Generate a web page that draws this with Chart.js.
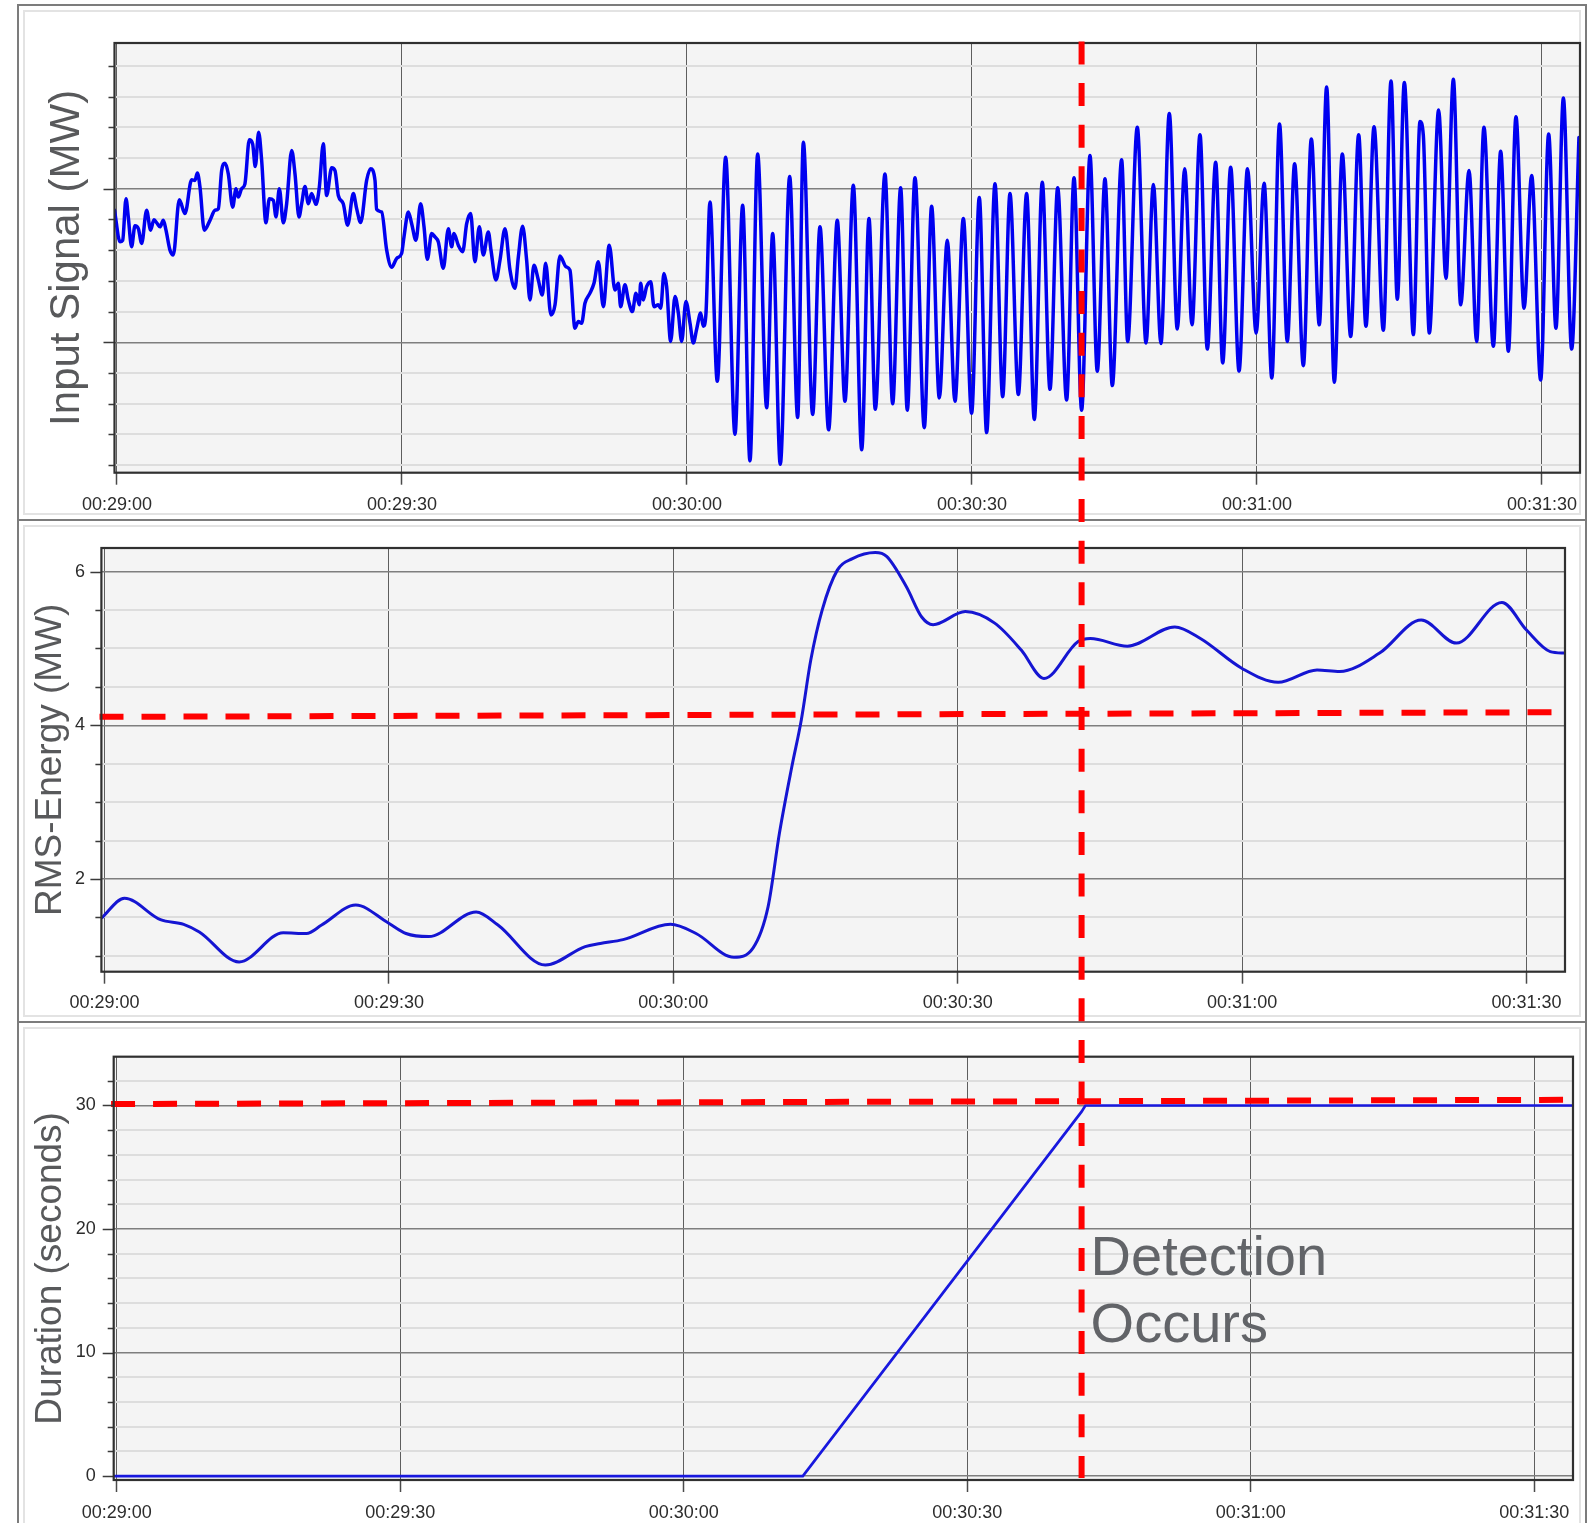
<!DOCTYPE html>
<html>
<head>
<meta charset="utf-8">
<title>Oscillation detection</title>
<script src="https://cdn.jsdelivr.net/npm/chart.js@4.4.1/dist/chart.umd.min.js"></script>
<style>
  html, body { margin: 0; padding: 0; background: #fff; }
  #page { position: relative; width: 1589px; height: 1523px; overflow: hidden; background: #fff; }
  .panel { position: absolute; box-sizing: border-box; border: 2px solid #7c7c7c;
           box-shadow: inset 0 0 0 4px #fff, inset 0 0 0 6px #e3e3e3; }
  canvas { position: absolute; left: 0; }
  #note { position: absolute; font-family: 'Liberation Sans', Arial, sans-serif; font-size: 56px;
          line-height: 67px; color: #626468; white-space: nowrap; }
</style>
</head>
<body>
<div id="page">
  <div class="panel" style="left:17px;top:4px;width:1570px;height:517px"></div>
  <div class="panel" style="left:17px;top:519px;width:1570px;height:504px"></div>
  <div class="panel" style="left:17px;top:1021px;width:1570px;height:520px"></div>
  <canvas id="signalChart" width="1589" height="520" style="top:0"></canvas>
  <canvas id="rmsChart" width="1589" height="502" style="top:520px"></canvas>
  <canvas id="durationChart" width="1589" height="501" style="top:1022px"></canvas>
  <canvas id="overlay" width="1589" height="1523" style="top:0;pointer-events:none"></canvas>
  <div id="note">Detection<br>Occurs</div>
</div>
<script>
// Time axis: seconds after 00:29:00
const timeTickValues = [0, 30, 60, 90, 120, 150];
const timeTickLabels = ['00:29:00', '00:29:30', '00:30:00', '00:30:30', '00:31:00', '00:31:30'];

// Input signal (MW)
const signalTimes = [
  -0.26,0.32,0.60,0.95,1.19,1.54,1.89,2.25,2.60,3.12,3.54,3.89,4.25,4.53,4.88,5.16,5.58,5.93,6.56,7.16,
  7.86,8.21,8.46,8.74,9.19,9.79,10.32,10.67,11.02,11.37,11.72,12.18,12.53,12.77,13.12,13.47,13.93,14.28,14.56,14.91,
  15.23,15.68,16.04,16.46,16.74,17.09,17.51,17.86,18.39,18.74,19.16,19.44,19.79,20.14,20.49,20.95,21.30,21.72,22.07,22.60,
  22.95,23.30,23.82,24.28,24.88,25.23,25.65,26.28,26.70,27.16,27.33,27.86,28.39,28.91,29.44,29.96,30.21,30.67,31.02,31.47,
  31.96,32.32,32.67,33.12,33.47,33.82,34.35,34.88,35.23,35.47,35.93,36.39,36.81,37.23,37.68,38.14,38.56,39.09,39.37,39.89,
  40.32,40.84,41.37,41.89,42.25,42.70,43.12,43.47,43.89,44.35,44.77,45.12,45.68,46.11,46.63,47.26,47.68,48.21,48.56,48.91,
  49.26,49.79,50.21,50.67,51.19,51.82,52.42,52.77,53.02,53.47,53.82,54.25,54.63,54.98,55.12,55.40,55.75,56.18,56.53,56.98,
  57.23,57.58,57.86,58.28,58.74,59.09,59.44,59.89,60.32,60.67,61.02,61.44,61.72,62.00,
  62.42,63.19,64.07,65.05,65.86,66.63,67.44,68.39,69.02,69.82,70.81,71.65,72.25,73.23,74.00,74.91,75.82,76.63,77.51,78.39,
  79.16,79.82,80.84,81.65,82.49,83.19,84.00,84.98,85.75,86.56,87.40,88.21,89.09,89.96,90.77,91.54,92.42,93.23,94.00,94.88,
  95.75,96.56,97.40,98.21,99.02,99.96,100.74,101.54,102.42,103.19,104.00,104.77,105.75,106.39,107.40,108.32,109.09,109.89,110.77,111.61,
  112.39,113.16,114.00,114.77,115.65,116.39,117.23,118.11,119.00,119.91,120.75,121.56,122.37,123.19,123.96,124.88,125.72,126.56,127.33,128.14,
  128.98,129.86,130.70,131.47,132.32,133.30,134.11,134.77,135.51,136.46,137.16,137.51,138.14,139.12,139.89,140.67,141.44,142.32,143.12,143.89,
  144.88,145.65,146.46,147.26,148.11,148.91,149.86,150.70,151.47,152.25,153.12,153.89
];
const signalValues = [
  4.30,3.27,3.32,4.67,4.08,3.11,3.79,3.70,3.22,4.30,3.65,3.99,3.86,3.76,3.97,3.65,3.00,2.84,4.64,4.19,
  5.29,5.27,5.51,5.05,3.65,3.97,4.30,4.35,5.59,5.83,5.48,4.40,5.00,4.73,5.00,5.16,6.59,6.46,5.72,6.84,
  5.92,3.89,4.67,4.62,4.08,5.00,3.89,4.51,6.24,5.48,4.08,4.51,5.07,4.51,4.84,4.49,5.05,6.46,4.78,5.68,
  5.59,4.78,4.51,3.81,4.84,4.35,3.90,5.27,5.65,5.27,4.33,4.24,3.00,2.44,2.73,2.89,3.43,4.24,3.86,3.32,
  4.51,3.76,2.70,3.54,3.43,3.27,2.41,3.70,3.11,3.54,3.16,2.95,3.86,4.19,2.62,3.76,2.84,3.59,3.00,2.03,
  2.68,3.70,2.35,1.76,2.78,3.78,2.68,1.38,2.51,2.03,1.54,2.57,0.89,1.22,2.81,2.46,2.35,0.46,0.68,0.62,
  1.27,1.60,1.92,2.62,1.16,3.16,1.70,1.92,1.16,1.87,1.38,1.00,1.60,1.22,1.92,1.38,1.81,1.97,1.16,1.22,
  1.11,2.24,1.81,0.03,1.49,0.95,0.03,1.33,0.62,-0.02,0.43,0.95,0.52,0.95,
  4.57,-1.27,6.02,-2.99,4.46,-3.86,6.13,-2.13,3.54,-3.97,5.40,-2.45,6.51,-2.35,3.76,-2.85,3.97,-1.92,5.11,-3.50,
  4.03,-2.18,5.48,-2.00,5.03,-2.21,5.36,-2.78,4.43,-1.81,3.32,-1.92,4.03,-2.31,4.71,-2.94,5.16,-1.77,4.84,-1.70,
  4.84,-2.51,5.21,-1.53,5.03,-1.88,5.36,-2.21,6.08,-0.94,5.32,-1.41,5.94,0.03,7.00,-0.02,5.14,-0.04,7.45,0.43,
  5.65,0.57,6.76,-0.22,5.86,-0.67,5.70,-0.94,5.65,0.30,5.18,-1.16,7.11,0.03,5.81,-0.76,6.62,0.57,8.31,-1.30,
  6.13,0.19,6.76,0.52,7.02,0.39,8.51,1.40,8.46,0.25,7.19,6.73,0.30,7.56,2.08,8.56,1.22,5.59,0.03,7.00,
  -0.13,6.22,-0.29,7.34,1.11,5.43,-1.23,6.78,0.46,7.95,-0.22,6.67
];

// RMS energy (MW) and its threshold
const rmsTimes = [-0.33,2.1,5.9,8.35,10.0,14.2,18.85,21.3,22.9,26.5,29.9,31.8,34.2,39.2,41.5,46.5,50.7,52.3,54.7,59.7,
  62.4,66.4,68.4,70.0,71.2,72.5,73.5,74.5,75.7,77.3,78.9,81.3,82.5,84.6,86.2,87.4,90.8,93.9,96.7,99.1,
  102.7,104.0,107.9,112.9,115.6,120.0,123.8,127.9,130.3,134.5,138.9,142.6,147.4,150.0,152.5,154.1];
const rmsValues = [1.49,1.75,1.47,1.41,1.31,0.92,1.30,1.29,1.40,1.66,1.43,1.29,1.25,1.57,1.40,0.88,1.12,1.16,1.21,1.41,
  1.29,0.98,1.10,1.64,2.60,3.46,4.07,4.85,5.50,6.02,6.17,6.25,6.20,5.80,5.41,5.31,5.48,5.33,4.98,4.61,
  5.09,5.13,5.03,5.28,5.13,4.74,4.56,4.72,4.70,4.94,5.37,5.07,5.60,5.24,4.96,4.94];
const rmsThresholdTimes = [-0.53, 152.66];
const rmsThresholdValues = [4.11, 4.17];
const rmsTickLabels = [2, 4, 6];

// Duration above threshold (seconds) and the duration limit
const durationTimes = [-0.32, 72.6, 102.1, 102.5, 154.1];
const durationValues = [0, 0, 29.5, 30, 30];
const durationThresholdTimes = [-0.6, 153.08];
const durationThresholdValues = [30.12, 30.46];
const durationTickLabels = [0, 10, 20, 30];

// Moment the duration reaches its limit
const detectionTime = 102.1;

const FONT = "'Liberation Sans', Arial, sans-serif";
const pts = (xs, ys) => xs.map((x, i) => ({ x, y: ys[i] }));
const isMultiple = (v, step) => Math.abs(v / step - Math.round(v / step)) < 1e-6;

// Grey plot background, framed plot area and two-length y tick marks
const plotFrame = {
  id: 'plotFrame',
  beforeDraw(chart) {
    const { ctx, chartArea: a } = chart;
    ctx.save();
    ctx.fillStyle = '#f4f4f4';
    ctx.fillRect(a.left, a.top, a.right - a.left, a.bottom - a.top);
    ctx.restore();
  },
  afterDraw(chart, args, opts) {
    const { ctx, chartArea: a } = chart;
    const y = chart.scales.y;
    ctx.save();
    ctx.strokeStyle = '#3a3a3a';
    ctx.lineWidth = 1.5;
    ctx.beginPath();
    for (const t of y.ticks) {
      const py = Math.round(y.getPixelForValue(t.value)) + 0.5;
      const len = isMultiple(t.value, opts.majorStep) ? 11 : 6;
      ctx.moveTo(a.left - len, py);
      ctx.lineTo(a.left, py);
    }
    ctx.stroke();
    ctx.lineWidth = 2.2;
    ctx.strokeStyle = '#303030';
    ctx.strokeRect(a.left, a.top, a.right - a.left, a.bottom - a.top);
    ctx.restore();
  }
};

function makeChart(id, c) {
  return new Chart(document.getElementById(id), {
    type: 'line',
    data: { datasets: c.datasets },
    options: {
      responsive: false,
      animation: false,
      devicePixelRatio: 1,
      events: [],
      layout: { padding: { top: c.top, right: c.right, left: 0, bottom: 0 } },
      plugins: { legend: { display: false }, tooltip: { enabled: false }, plotFrame: { majorStep: c.majorStep } },
      scales: {
        x: {
          type: 'linear', min: c.xMin, max: c.xMax,
          afterFit: s => { s.height = c.xAxisHeight; },
          ticks: {
            stepSize: 30, includeBounds: false, autoSkip: false, maxRotation: 0, maxTicksLimit: 100,
            padding: c.xPad, color: '#2c2c2c', font: { family: FONT, size: 18, lineHeight: 1.2 },
            callback: v => { const i = timeTickValues.indexOf(v); return i < 0 ? '' : timeTickLabels[i]; }
          },
          grid: { color: '#5e5e5e', lineWidth: 1, tickLength: 12, tickColor: '#4a4a4a', tickWidth: 1.5 },
          border: { display: false }
        },
        y: {
          type: 'linear', min: c.yMin, max: c.yMax,
          afterFit: s => { s.width = c.yAxisWidth; },
          ticks: {
            stepSize: c.yStep, includeBounds: false, autoSkip: false, maxTicksLimit: 100,
            padding: c.yPad, color: '#2c2c2c', font: { family: FONT, size: 18, lineHeight: 1.2 },
            callback: v => (c.yLabels.includes(v) ? String(v) : '')
          },
          grid: {
            drawTicks: false,
            color: g => (isMultiple(g.tick.value, c.majorStep) ? '#7e7e7e' : '#dddddd'),
            lineWidth: g => (isMultiple(g.tick.value, c.majorStep) ? 1.4 : 2)
          },
          border: { display: false },
          title: {
            display: true, text: c.title, color: '#58595b',
            font: { family: FONT, size: c.titleSize, lineHeight: 1 },
            padding: { top: c.titlePad, bottom: 0 }
          }
        }
      }
    },
    plugins: [plotFrame]
  });
}

const redDash = { borderColor: '#ff0000', borderWidth: 6, borderDash: [24, 18], borderCapStyle: 'butt',
                  pointRadius: 0, tension: 0, fill: false, clip: 8 };

const signalChart = makeChart('signalChart', {
  xMin: -0.26, xMax: 154.0, yMin: -4.245, yMax: 9.743, yStep: 1, majorStep: 5, yLabels: [],
  title: 'Input Signal (MW)', titleSize: 42, titlePad: 46,
  top: 43, right: 9, yAxisWidth: 114.5, xAxisHeight: 47.3, xPad: 9.5, yPad: 10,
  datasets: [{
    data: pts(signalTimes, signalValues), borderColor: '#0000f0', borderWidth: 3.5,
    pointRadius: 0, cubicInterpolationMode: 'monotone', borderJoinStyle: 'round', borderCapStyle: 'round', fill: false
  }]
});

const rmsChart = makeChart('rmsChart', {
  xMin: -0.33, xMax: 154.06, yMin: 0.793, yMax: 6.308, yStep: 0.5, majorStep: 2, yLabels: rmsTickLabels,
  title: 'RMS-Energy (MW)', titleSize: 37, titlePad: 32.2,
  top: 28, right: 24, yAxisWidth: 101.4, xAxisHeight: 50.3, xPad: 8.8, yPad: 16.4,
  datasets: [
    Object.assign({ data: pts(rmsThresholdTimes, rmsThresholdValues) }, redDash),
    { data: pts(rmsTimes, rmsValues), borderColor: '#1515d2', borderWidth: 3,
      pointRadius: 0, cubicInterpolationMode: 'monotone', fill: false }
  ]
});

const durationChart = makeChart('durationChart', {
  xMin: -0.32, xMax: 154.1, yMin: -0.32, yMax: 33.95, yStep: 2, majorStep: 10, yLabels: durationTickLabels,
  title: 'Duration (seconds)', titleSize: 37, titlePad: 32.2,
  top: 34.7, right: 16, yAxisWidth: 113.7, xAxisHeight: 43, xPad: 10.5, yPad: 18,
  datasets: [
    Object.assign({ data: pts(durationThresholdTimes, durationThresholdValues) }, redDash),
    { data: pts(durationTimes, durationValues), borderColor: '#1818de', borderWidth: 2.7,
      pointRadius: 0, tension: 0, fill: false }
  ]
});

// Detection marker across all three panels, placed on the duration chart's time scale
(function drawDetection() {
  const overlay = document.getElementById('overlay');
  const ctx = overlay.getContext('2d');
  const xs = durationChart.scales.x;
  const ys = durationChart.scales.y;
  const x = xs.getPixelForValue(detectionTime);
  const y0 = signalChart.canvas.offsetTop + signalChart.chartArea.top - 1.5;
  const y1 = durationChart.canvas.offsetTop + durationChart.chartArea.bottom - 2;
  ctx.save();
  ctx.strokeStyle = '#ff0000';
  ctx.lineWidth = 6;
  ctx.lineCap = 'butt';
  ctx.setLineDash([23, 18.6]);
  ctx.beginPath();
  ctx.moveTo(x, y0);
  ctx.lineTo(x, y1);
  ctx.stroke();
  ctx.restore();

  const note = document.getElementById('note');
  note.style.left = (x + 9) + 'px';
  note.style.top = (durationChart.canvas.offsetTop + ys.getPixelForValue(20.6)) + 'px';
})();
</script>
</body>
</html>
